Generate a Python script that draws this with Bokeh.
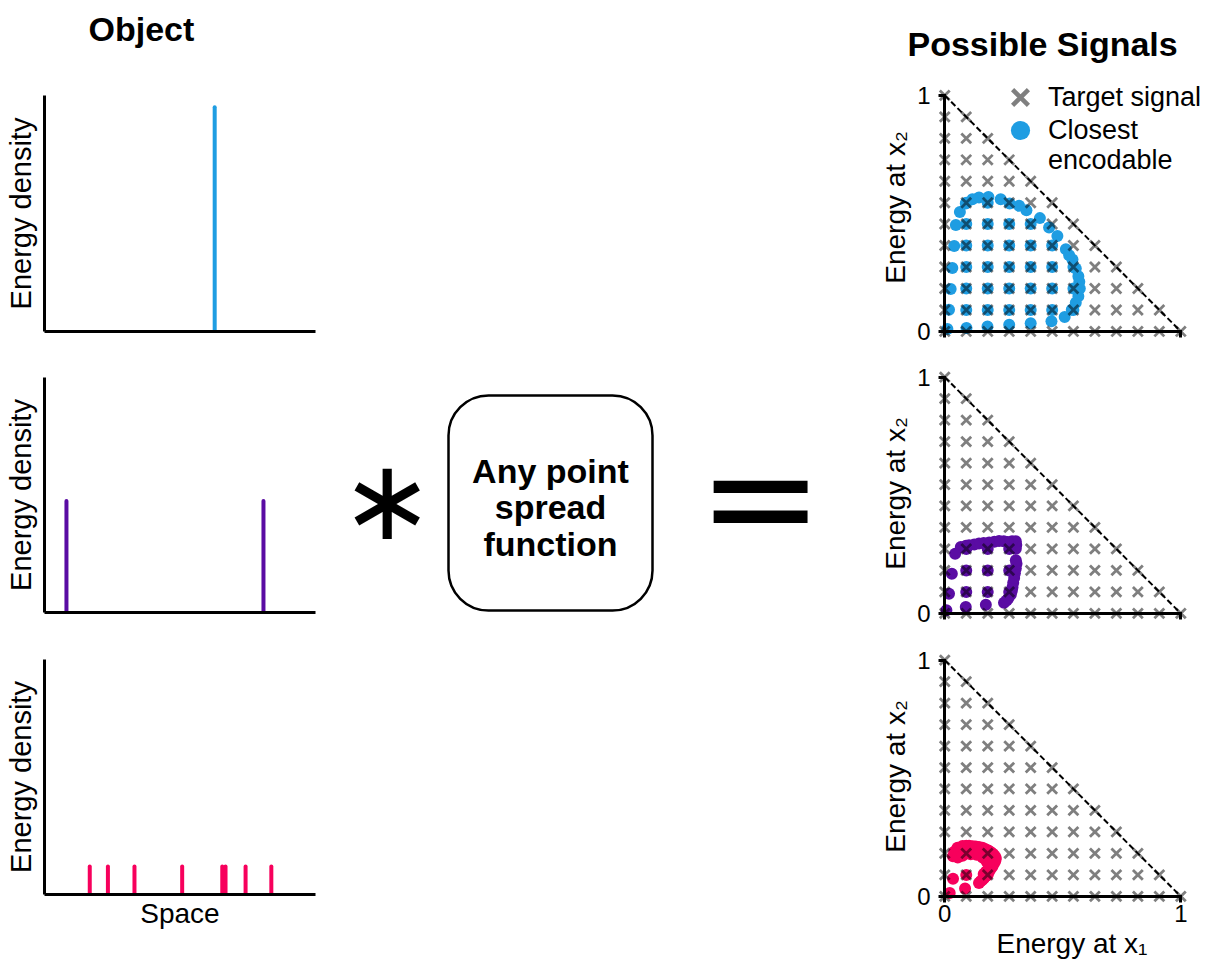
from bokeh.plotting import figure
from bokeh.models import Range1d, LinearAxis, FixedTicker, Legend, LegendItem
from bokeh.layouts import row, column
from bokeh.embed import file_html
from bokeh.resources import INLINE
from bokeh.core.properties import value

FONT = "Liberation Sans"
SYM_FONT = "DejaVu Sans"

BLUE = "#1f9de2"
PURPLE = "#5a0ca3"
PINK = "#f7005c"

# ---------------- data ----------------
# Object panels (position along space, energy density)
blue_spike_x = [0.628]
blue_spike_h = [0.95]
purple_spike_x = [0.081, 0.808]
purple_spike_h = [0.475, 0.475]
pink_spike_x = [0.167, 0.234, 0.332, 0.508, 0.656, 0.668, 0.742, 0.837]
pink_spike_h = [0.119, 0.119, 0.119, 0.119, 0.119, 0.119, 0.119, 0.119]

# Target signal lattice levels (energy at x1 / x2)
target_levels = [0.0, 0.091, 0.182, 0.273, 0.364, 0.455, 0.545, 0.636, 0.727, 0.818, 0.909, 1.0]

# Closest encodable signals
blue_x = [0.011, 0.092, 0.181, 0.273, 0.364, 0.452, 0.508, 0.538, 0.555, 0.566, 0.572,
          0.570, 0.566, 0.555, 0.541, 0.527, 0.513, 0.477, 0.442, 0.403, 0.346, 0.315,
          0.275, 0.237, 0.185, 0.145, 0.117, 0.089, 0.064, 0.047, 0.040, 0.032, 0.025, 0.018]
blue_y = [0.010, 0.014, 0.021, 0.028, 0.035, 0.043, 0.061, 0.092, 0.121, 0.149, 0.182,
          0.210, 0.234, 0.267, 0.305, 0.323, 0.348, 0.404, 0.440, 0.480, 0.513, 0.532,
          0.542, 0.560, 0.570, 0.567, 0.560, 0.542, 0.506, 0.451, 0.362, 0.269, 0.180, 0.092]
blue_grid_x = [0.091, 0.182, 0.273, 0.364, 0.455, 0.545,
               0.091, 0.182, 0.273, 0.364, 0.455, 0.545,
               0.091, 0.182, 0.273, 0.364, 0.455, 0.545,
               0.091, 0.182, 0.273, 0.364, 0.455,
               0.091, 0.182, 0.273, 0.364,
               0.091, 0.182]
blue_grid_y = [0.091, 0.091, 0.091, 0.091, 0.091, 0.091,
               0.182, 0.182, 0.182, 0.182, 0.182, 0.182,
               0.273, 0.273, 0.273, 0.273, 0.273, 0.273,
               0.364, 0.364, 0.364, 0.364, 0.364,
               0.455, 0.455, 0.455, 0.455,
               0.545, 0.545]

purple_x = [0.007, 0.089, 0.174, 0.251, 0.262, 0.270, 0.280, 0.284, 0.287, 0.290, 0.294, 0.297,
            0.301, 0.304, 0.301,
            0.301, 0.303, 0.301, 0.285, 0.266, 0.250, 0.230, 0.210, 0.188, 0.165, 0.145, 0.125,
            0.103, 0.090, 0.068, 0.044,
            0.030, 0.018,
            0.091, 0.182, 0.273, 0.091, 0.182, 0.273, 0.091, 0.182, 0.273]
purple_y = [0.013, 0.027, 0.037, 0.045, 0.055, 0.065, 0.080, 0.095, 0.111, 0.130, 0.150, 0.170,
            0.190, 0.210, 0.225,
            0.274, 0.290, 0.305, 0.305, 0.302, 0.305, 0.306, 0.303, 0.300, 0.298, 0.296, 0.292,
            0.288, 0.286, 0.281, 0.253,
            0.168, 0.083,
            0.091, 0.091, 0.091, 0.182, 0.182, 0.182, 0.273, 0.273, 0.273]

pink_x = [0.021, 0.086, 0.035, 0.091, 0.145,
          0.035, 0.040, 0.054, 0.075, 0.091, 0.103, 0.118, 0.131, 0.145, 0.160, 0.173, 0.185,
          0.196, 0.205, 0.212, 0.216, 0.215, 0.213, 0.208, 0.202, 0.195, 0.188, 0.181, 0.174,
          0.167, 0.160, 0.152,
          0.055, 0.075, 0.110, 0.135, 0.160, 0.176, 0.186, 0.188, 0.175, 0.165,
          0.091, 0.182, 0.182]
pink_y = [0.014, 0.033, 0.075, 0.091, 0.057,
          0.170, 0.189, 0.206, 0.213, 0.214, 0.214, 0.212, 0.211, 0.209, 0.206, 0.200, 0.194,
          0.187, 0.180, 0.171, 0.163, 0.155, 0.149, 0.139, 0.128, 0.117, 0.106, 0.096, 0.085,
          0.078, 0.071, 0.064,
          0.165, 0.172, 0.178, 0.176, 0.165, 0.150, 0.135, 0.118, 0.105, 0.095,
          0.182, 0.182, 0.091]

boundary_x = [0.0, 1.0]
boundary_y = [1.0, 0.0]
tick_values = [0, 1]

titles = ["Object", "Possible Signals"]
object_ylabel = "Energy density"
object_xlabel = "Space"
signal_ylabel = "Energy at x\u2082"
signal_xlabel = "Energy at x\u2081"
legend_labels = ["Target signal", "Closest", "encodable"]
center_text = "Any point\nspread\nfunction"

target_x = [a for a in target_levels for b in target_levels if a + b <= 1.0001]
target_y = [b for a in target_levels for b in target_levels if a + b <= 1.0001]


# ---------------- helpers ----------------
def base_fig(w, h, xr, yr, left, right, top, bottom):
    p = figure(width=w, height=h, x_range=xr, y_range=yr, x_axis_type=None, y_axis_type=None,
               toolbar_location=None, output_backend="svg",
               min_border_left=left, min_border_right=right,
               min_border_top=top, min_border_bottom=bottom)
    p.outline_line_color = None
    p.background_fill_color = "white"
    p.border_fill_color = "white"
    return p


def title_fig(w, h, text, left, right, top, offset):
    p = base_fig(w, h, Range1d(0, 1), Range1d(0, 1), left, right, top, 0)
    p.title.text = text
    p.title.align = "left"
    p.title.offset = offset
    p.title.standoff = 0
    p.title.vertical_align = "bottom"
    p.title.text_font = FONT
    p.title.text_font_size = "34px"
    p.title.text_font_style = "bold"
    p.title.text_color = "black"
    return p


def plain_axis(label=None, size="28px"):
    ax = LinearAxis(ticker=FixedTicker(ticks=[]))
    ax.axis_line_width = 3
    ax.axis_line_color = "black"
    ax.major_tick_in = 0
    ax.major_tick_out = 0
    ax.minor_tick_in = 0
    ax.minor_tick_out = 0
    ax.major_tick_line_color = None
    ax.minor_tick_line_color = None
    ax.major_label_standoff = 0
    if label:
        ax.axis_label = label
        ax.axis_label_text_font = FONT
        ax.axis_label_text_font_size = size
        ax.axis_label_text_font_style = "normal"
        ax.axis_label_text_color = "black"
    return ax


def object_panel(xs, hs, color, h, top, bottom, xlabel=None):
    p = base_fig(330, h, Range1d(0, 1), Range1d(0, 1), 44, 15, top, bottom)
    p.segment(x0=xs, y0=[0] * len(xs), x1=xs, y1=hs, line_color=color, line_width=4, line_cap="round")
    ya = plain_axis(object_ylabel, "29px")
    ya.axis_label_standoff = 8
    p.add_layout(ya, "left")
    xa = plain_axis(xlabel, "28px")
    xa.axis_label_standoff = 3
    p.add_layout(xa, "below")
    return p


def fixed_axis():
    ax = LinearAxis(fixed_location=0, ticker=FixedTicker(ticks=tick_values), bounds=(0, 1))
    ax.axis_line_width = 3
    ax.axis_line_color = "black"
    ax.axis_line_cap = "square"
    ax.major_tick_in = -6
    ax.major_tick_out = 0
    ax.major_tick_line_width = 3
    ax.major_tick_line_color = "black"
    ax.minor_tick_line_color = None
    ax.major_label_text_color = None
    ax.major_label_text_alpha = 0
    ax.major_label_text_font_size = "0px"
    ax.major_label_standoff = 0
    return ax


def label_axis(label, standoff, label_standoff):
    ax = LinearAxis(ticker=FixedTicker(ticks=tick_values))
    ax.axis_line_color = None
    ax.major_tick_line_color = None
    ax.minor_tick_line_color = None
    ax.major_tick_in = 0
    ax.major_tick_out = 0
    ax.major_label_text_font = FONT
    ax.major_label_text_font_size = "24px"
    ax.major_label_text_color = "black"
    ax.major_label_standoff = standoff
    ax.axis_label = label
    ax.axis_label_text_font = FONT
    ax.axis_label_text_font_size = "28px"
    ax.axis_label_text_font_style = "normal"
    ax.axis_label_text_color = "black"
    ax.axis_label_standoff = label_standoff
    return ax


def one_item_legend(label, renderer, loc, box, standoff):
    return Legend(items=[LegendItem(label=label, renderers=[renderer])],
                  location=loc, padding=0, margin=0, spacing=0,
                  glyph_width=box, glyph_height=box, label_height=box, label_standoff=standoff,
                  label_text_font=FONT, label_text_font_size="27px",
                  label_text_color="black", inactive_fill_alpha=0,
                  background_fill_alpha=0, border_line_color=None)


def signal_panel(xs, ys, gx, gy, color, h, yr, top, bottom, xlabel=False, legend=False):
    p = base_fig(339, h, Range1d(-0.035, 1.113), yr, 66, 2, top, bottom)
    p.line(boundary_x, boundary_y, line_color="black", line_width=2, line_dash="6 3")
    p.scatter(xs + gx, ys + gy, marker="circle", size=12, fill_color=color, line_color=None)
    p.scatter(target_x, target_y, marker="x", size=14, line_color="black",
              line_alpha=0.5, line_width=2.8)
    p.add_layout(fixed_axis(), "left")
    p.add_layout(label_axis(signal_ylabel, 6, 3), "left")
    p.add_layout(fixed_axis(), "below")
    if xlabel:
        p.add_layout(label_axis(signal_xlabel, 1, 3), "below")
    if legend:
        # legend-only renderers (hidden in the plot)
        lx = p.scatter(target_x[:1], target_y[:1], marker="x", size=22, line_color="black",
                       line_alpha=0.5, line_width=4.5, visible=False)
        ld = p.scatter(xs[:1], ys[:1], marker="circle", size=19, fill_color=color,
                       line_color=None, visible=False)
        lb = p.scatter(xs[:1], ys[:1], marker="circle", size=1, fill_alpha=0,
                       line_alpha=0, visible=False)
        # location = (left from frame left, legend bottom up from frame bottom)
        p.add_layout(one_item_legend(legend_labels[0], lx, (56, 213), 56, 0))
        p.add_layout(one_item_legend(legend_labels[1], ld, (60, 184), 48, 4))
        p.add_layout(one_item_legend(legend_labels[2], lb, (60, 154), 48, 4))
    return p


TL = title_fig(330, 60, titles[0], 44, 15, 47, 44)
L1 = object_panel(blue_spike_x, blue_spike_h, BLUE, 285, 35, 14)
L2 = object_panel(purple_spike_x, purple_spike_h, PURPLE, 295, 32, 28)
L3 = object_panel(pink_spike_x, pink_spike_h, PINK, 326, 19, 72, xlabel=object_xlabel)

TR = title_fig(339, 64, titles[1], 66, 2, 62, -29)
R1 = signal_panel(blue_x, blue_y, blue_grid_x, blue_grid_y, BLUE, 281, Range1d(-0.03, 1.08), 12, 7,
                  legend=True)
R2 = signal_panel(purple_x, purple_y, [], [], PURPLE, 295, Range1d(-0.03, 1.045), 21, 20)
R3 = signal_panel(pink_x, pink_y, [], [], PINK, 326, Range1d(-0.03, 1.045), 9, 63, xlabel=True)

# centre: convolution with PSF equals
C = base_fig(540, 966, Range1d(330, 870), Range1d(966, 0), 0, 0, 0, 0)
C.min_border = 0
C.quad(left=[448], right=[652], top=[395], bottom=[610], border_radius=40,
       fill_color=None, line_color="black", line_width=2.5)
C.text(x=[550], y=[507], text=[center_text], text_align="center", text_baseline="middle",
       text_font=value(FONT), text_font_style="bold", text_font_size="34px", text_line_height=0.96)
C.text(x=[387], y=[499], text=["\u2217"], text_align="center", text_baseline="middle",
       text_font=value(SYM_FONT), text_font_size="112px")
C.text(x=[760], y=[496], text=["="], text_align="center", text_baseline="middle",
       text_font=value(SYM_FONT), text_font_size="150px")

layout = row(column(TL, L1, L2, L3), C, column(TR, R1, R2, R3))

open("out.html", "w").write(file_html(layout, INLINE))
